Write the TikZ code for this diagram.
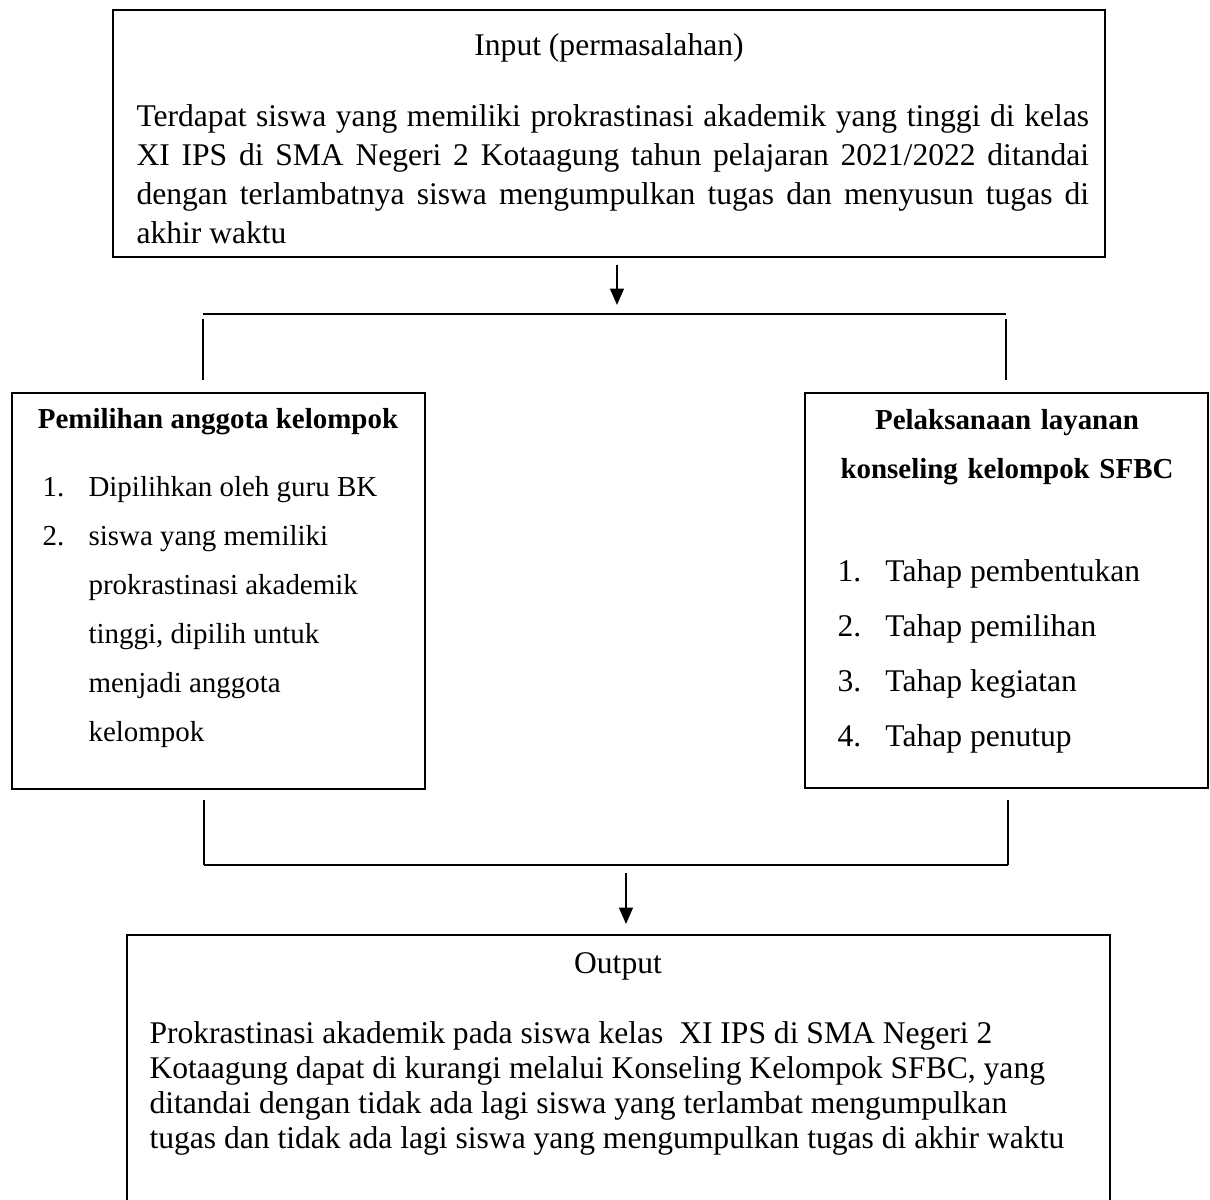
\documentclass[tikz,border=0pt]{standalone}
\usepackage{fontspec}
\setmainfont{Liberation Serif}
\usetikzlibrary{arrows.meta, positioning, fit}

\begin{document}
\begin{tikzpicture}[
  x=0.38pt, y=-0.38pt,
  box/.style={draw, line width=0.75pt, inner sep=0pt},
  body/.style={inner sep=0pt, anchor=base west, font=\fontsize{12}{14.8}\selectfont},
  head/.style={inner sep=0pt, anchor=base, font=\fontsize{12}{14.8}\selectfont},
  bold/.style={inner sep=0pt, anchor=base, align=center, font=\fontsize{11}{18.6}\selectfont\bfseries},
  arr/.style={-{Triangle[length=6.2pt, width=5.2pt]}, line width=0.75pt},
  bar/.style={line width=1.1pt},
  leg/.style={line width=0.6pt}
]
\useasboundingbox (0,0) rectangle (1210,1200);

\node[box, fit={(113,10) (1105,257)}] (input) {};
\node[box, fit={(12,393) (425,789)}] (pilih) {};
\node[box, fit={(805,393) (1208,788)}] (laksana) {};
\node[box, fit={(127,935) (1110,1215)}] (output) {};

\node[head] (inputhead) at (609,56) {Input (permasalahan)};
\node[body, text width=362pt, align=justify] (inputbody) at (136,127)
  {Terdapat siswa yang memiliki prokrastinasi akademik yang tinggi di kelas\linebreak
   XI IPS di SMA Negeri 2 Kotaagung tahun pelajaran 2021/2022 ditandai\linebreak
   dengan terlambatnya siswa mengumpulkan tugas dan menyusun tugas di\linebreak
   akhir waktu};

\node[bold] (pilihhead) at (218,429) {Pemilihan anggota kelompok};
\node[body, font=\fontsize{11}{18.6}\selectfont] (pilihlist) at (42,497)
  {\begin{tabular}[t]{@{}p{17.5pt}@{}l@{}}
   1. & Dipilihkan oleh guru BK\\
   2. & siswa yang memiliki\\
      & prokrastinasi akademik\\
      & tinggi, dipilih untuk\\
      & menjadi anggota\\
      & kelompok
   \end{tabular}};

\node[bold, text width=170pt] (laksanahead) at (1007,430) {Pelaksanaan layanan\\konseling kelompok SFBC};
\node[body, font=\fontsize{12}{20.9}\selectfont] (laksanalist) at (837,582)
  {\begin{tabular}[t]{@{}p{18.2pt}@{}l@{}}
   1. & Tahap pembentukan\\
   2. & Tahap pemilihan\\
   3. & Tahap kegiatan\\
   4. & Tahap penutup
   \end{tabular}};

\node[head] (outputhead) at (618,973) {Output};
\node[body, text width=360pt, align=flush left, font=\fontsize{12}{13.3}\selectfont] (outputbody) at (149,1043)
  {Prokrastinasi akademik pada siswa kelas\ \ XI IPS di SMA Negeri 2\\
   Kotaagung dapat di kurangi melalui Konseling Kelompok SFBC, yang\\
   ditandai dengan tidak ada lagi siswa yang terlambat mengumpulkan\\
   tugas dan tidak ada lagi siswa yang mengumpulkan tugas di akhir waktu};

\coordinate (splitin)  at (617,265);
\coordinate (splitout) at (617,305);
\coordinate (splitl)   at (203,314);
\coordinate (splitr)   at (1006,314);
\coordinate (legl)     at (203,380);
\coordinate (legr)     at (1006,380);
\coordinate (joinl)    at (204,800);
\coordinate (joinr)    at (1008,800);
\coordinate (basel)    at (204,865);
\coordinate (baser)    at (1008,865);
\coordinate (joinin)   at (626,873);
\coordinate (joinout)  at (626,924);

\draw[arr] (splitin) -- (splitout);
\draw[bar] (splitl) -- (splitr);
\draw[leg] ([yshift=-2pt]splitl) -- (legl);
\draw[leg] ([yshift=-2pt]splitr) -- (legr);
\draw[leg] (joinl) -- (basel);
\draw[leg] (joinr) -- (baser);
\draw[bar] (basel) -- (baser);
\draw[arr] (joinin) -- (joinout);
\end{tikzpicture}
\end{document}
